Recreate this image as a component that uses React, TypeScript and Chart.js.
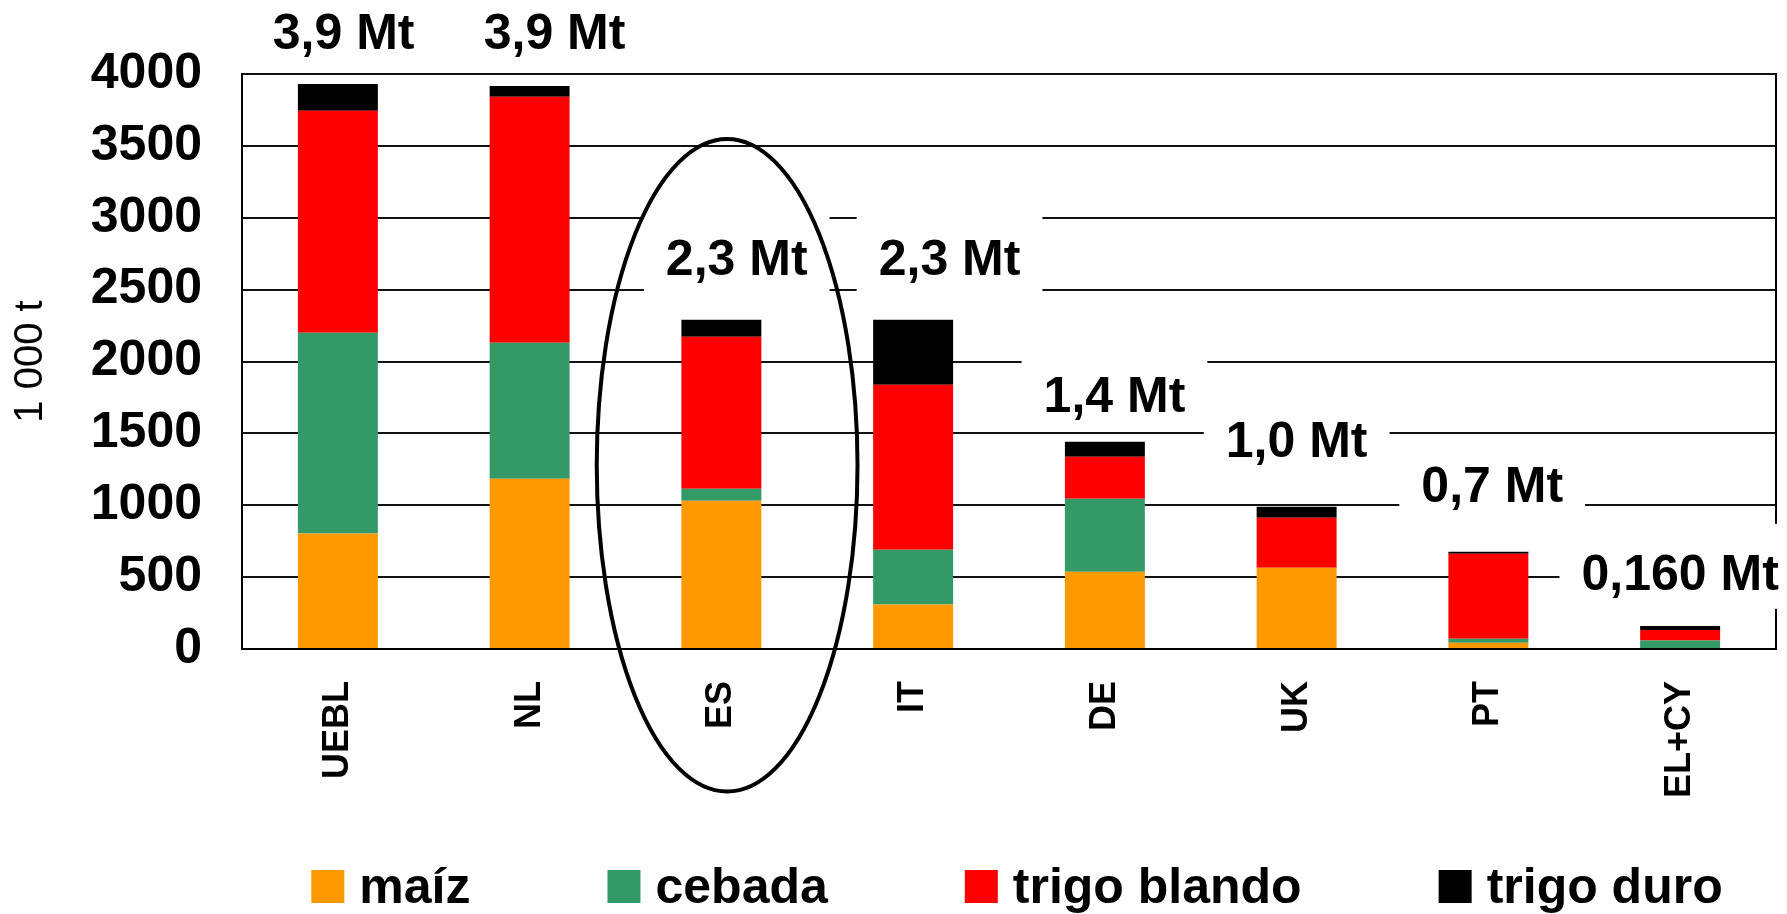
import React, { useEffect, useRef } from "react";
import { Chart, registerables } from "chart.js";

Chart.register(...registerables);

const FONT = "'Liberation Sans', Arial, Helvetica, sans-serif";

const categories = ["UEBL", "NL", "ES", "IT", "DE", "UK", "PT", "EL+CY"];
const seriesNames = ["maíz", "cebada", "trigo blando", "trigo duro"];
const seriesColors = ["#FF9900", "#339966", "#FF0000", "#000000"];

const maiz = [804, 1184, 1032, 309, 538, 565, 44, 0];
const cebada = [1396, 946, 83, 382, 507, 0, 28, 60];
const trigoBlando = [1544, 1711, 1057, 1147, 292, 348, 591, 72];
const trigoDuro = [187, 76, 118, 452, 105, 77, 14, 28];

const yTicks = [0, 500, 1000, 1500, 2000, 2500, 3000, 3500, 4000];
const yTickLabels = ["0", "500", "1000", "1500", "2000", "2500", "3000", "3500", "4000"];
const yAxisTitle = "1 000 t";

// total annotations: text, vertical level (in 1 000 t) and horizontal shift (fraction of a category)
const totalLabels = ["3,9 Mt", "3,9 Mt", "2,3 Mt", "2,3 Mt", "1,4 Mt", "1,0 Mt", "0,7 Mt", "0,160 Mt"];
const labelLevels = [4300, 4300, 2730, 2730, 1775, 1460, 1150, 537];
const labelShifts = [0.03, 0.13, 0.08, 0.19, 0.05, 0, 0.02, 0];

// highlight ellipse around ES
const highlightIndex = 2;
const ellipseShift = 0.03;
const ellipseCenterValue = 1278;
const ellipseRadiusValue = 2270;
const ellipseHalfWidth = 0.68;

const seriesValues = [maiz, cebada, trigoBlando, trigoDuro];

const overlayPlugin = {
  id: "overlay",
  afterDatasetsDraw(chart: any) {
    const { ctx, chartArea, scales } = chart;
    const x = scales.x;
    const y = scales.y;
    const catW = (chartArea.right - chartArea.left) / categories.length;
    ctx.save();
    ctx.font = `bold 50px ${FONT}`;
    ctx.textAlign = "center";
    ctx.textBaseline = "alphabetic";
    totalLabels.forEach((t, i) => {
      const cx = x.getPixelForValue(i) + labelShifts[i] * catW;
      const cy = y.getPixelForValue(labelLevels[i]);
      const base = cy + 18;
      const w = ctx.measureText(t).width;
      ctx.fillStyle = "#ffffff";
      ctx.fillRect(cx - w / 2 - 22, base - 66, w + 44, 85);
      ctx.fillStyle = "#000000";
      ctx.fillText(t, cx, base);
    });
    ctx.restore();
  },
  afterDraw(chart: any) {
    const { ctx, chartArea, scales } = chart;
    const x = scales.x;
    const y = scales.y;
    const catW = (chartArea.right - chartArea.left) / categories.length;
    ctx.save();
    // ellipse
    const ex = x.getPixelForValue(highlightIndex) + ellipseShift * catW;
    const ey = y.getPixelForValue(ellipseCenterValue);
    const ry = y.getPixelForValue(ellipseCenterValue - ellipseRadiusValue) - ey;
    const rx = ellipseHalfWidth * catW;
    ctx.beginPath();
    ctx.ellipse(ex, ey, rx, ry, 0, 0, Math.PI * 2);
    ctx.lineWidth = 4;
    ctx.strokeStyle = "#000000";
    ctx.stroke();

    // legend
    ctx.font = `bold 50px ${FONT}`;
    ctx.textAlign = "left";
    ctx.textBaseline = "alphabetic";
    const box = 33;
    const gap = 15;
    const spacing = 137;
    const widths = seriesNames.map((n) => ctx.measureText(n).width);
    const total = widths.reduce((a, w) => a + box + gap + w, 0) + spacing * (seriesNames.length - 1);
    let lx = (chartArea.left + chartArea.right) / 2 + 8 - total / 2;
    const base = chart.height - 11;
    seriesNames.forEach((n, i) => {
      ctx.fillStyle = seriesColors[i];
      ctx.fillRect(lx, base - box, box, box);
      ctx.fillStyle = "#000000";
      ctx.fillText(n, lx + box + gap, base);
      lx += box + gap + widths[i] + spacing;
    });
    ctx.restore();
  },
};

export default function App() {
  const canvasRef = useRef<HTMLCanvasElement | null>(null);

  useEffect(() => {
    document.body.style.margin = "0";
    const canvas = canvasRef.current;
    if (!canvas) return;
    Chart.defaults.font.family = FONT;
    Chart.defaults.color = "#000000";

    const chart = new Chart(canvas, {
      type: "bar",
      data: {
        labels: categories,
        datasets: seriesNames.map((name, i) => ({
          label: name,
          data: seriesValues[i],
          backgroundColor: seriesColors[i],
          borderWidth: 0,
          categoryPercentage: 1,
          barPercentage: 0.417,
        })),
      },
      options: {
        responsive: false,
        animation: false,
        devicePixelRatio: 1,
        layout: { padding: { top: 74, left: 0, right: 11, bottom: 0 } },
        plugins: {
          legend: { display: false },
          tooltip: { enabled: false },
        },
        scales: {
          x: {
            stacked: true,
            grid: { display: false, drawTicks: false },
            border: { display: true, color: "#000000", width: 2 },
            ticks: {
              font: { size: 36, weight: "bold" },
              color: "#000000",
              minRotation: 90,
              maxRotation: 90,
              padding: 32,
              autoSkip: false,
            },
            afterFit: (s: any) => {
              s.height = 265;
            },
          },
          y: {
            stacked: true,
            min: 0,
            max: 4000,
            afterBuildTicks: (s: any) => {
              s.ticks = yTicks.map((v) => ({ value: v }));
            },
            grid: { color: "#111111", lineWidth: 2, drawTicks: false },
            border: { display: true, color: "#000000", width: 2 },
            ticks: {
              font: { size: 50, weight: "bold" },
              color: "#000000",
              padding: 40,
              callback: (v: any) => {
                const k = yTicks.indexOf(Number(v));
                return k >= 0 ? yTickLabels[k] : String(v);
              },
            },
            title: {
              display: true,
              text: yAxisTitle,
              color: "#000000",
              font: { size: 40, weight: "normal", lineHeight: 1 },
              padding: { top: 11, bottom: 0 },
            },
            afterFit: (s: any) => {
              s.width = 242;
            },
          },
          y2: {
            position: "right",
            min: 0,
            max: 4000,
            grid: { display: false, drawTicks: false },
            border: { display: true, color: "#000000", width: 2 },
            ticks: { display: false },
            afterFit: (s: any) => {
              s.width = 0;
            },
          },
        },
      } as any,
      plugins: [overlayPlugin],
    });
    return () => chart.destroy();
  }, []);

  return (
    <div style={{ width: 1787, height: 914 }}>
      <canvas ref={canvasRef} width={1787} height={914} style={{ display: "block" }} />
    </div>
  );
}
